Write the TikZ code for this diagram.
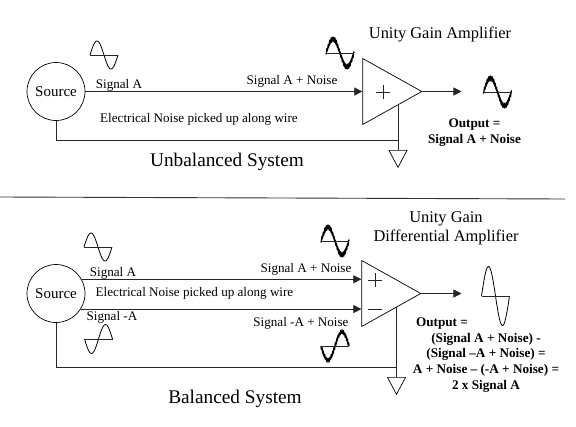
\documentclass[tikz,border=0pt]{standalone}
\usepackage{fontspec}
\setmainfont{Liberation Serif}
\usetikzlibrary{shapes.geometric,arrows.meta,positioning,backgrounds}
\tikzset{
  pics/wave/.style n args={3}{code={
    \draw[line width=#3] plot[domain=0:360,samples=145] ({\x/360*28},{-#1*sin(\x)+#2*sin(\x*21)});
    \draw[wire] (0,0) -- (28,0);
  }}
}
\begin{document}
\begin{tikzpicture}[
  x=1pt,y=-1pt,
  wire/.style={line width=0.7pt,black!85},
  arr/.style={wire,-{Triangle[length=8pt,width=8pt]}},
  src/.style={circle,draw,line width=0.7pt,minimum size=58pt,inner sep=0pt,font=\fontsize{15}{17}\selectfont},
  amp/.style={isosceles triangle,isosceles triangle apex angle=58.4,draw,fill=white,line width=0.7pt,inner sep=0pt,minimum height=59pt,minimum width=66pt},
  gnd/.style={isosceles triangle,isosceles triangle apex angle=56,shape border rotate=-90,draw,line width=0.7pt,inner sep=0pt,minimum height=17pt,minimum width=18pt,anchor=lower side},
  lbl/.style={inner sep=0pt,font=\fontsize{13.1}{15}\selectfont},
  sym/.style={inner sep=0pt,font=\fontsize{16.4}{19.5}\selectfont,align=center},
  ttl/.style={inner sep=0pt,font=\fontsize{19.3}{22}\selectfont},
  res/.style={inner sep=0pt,align=center,font=\fontsize{13.2}{15.6}\selectfont\bfseries}
]
\useasboundingbox (0,0) rectangle (576,426);
% unbalanced
\node[src] (srcA) at (56,91.5) {Source};
\node[amp,right=277pt of srcA] (ampA) {};
\node[gnd] (gndA) at (398,150) {};
\coordinate[above=10pt of gndA.lower side] (jctA);
\coordinate[right=39pt of ampA.apex] (outA);
\draw[arr] (srcA) -- (ampA.lower side);
\draw[arr] (ampA.apex) -- (outA);
\draw[wire] (srcA.south) |- (jctA);
\begin{scope}[on background layer]
\draw[wire] (gndA.lower side) -- (gndA.lower side |- ampA.center);
\end{scope}
\draw[wire] (376,92) -- (390,92) (383,85) -- (383,99);
\pic at (90,55) {wave={14}{0}{0.8pt}};
\pic at (326,53) {wave={14}{1.5}{1.3pt}};
\pic at (483.5,92) {wave={14}{1.5}{1.3pt}};
\node[lbl] (sigA) at (119,85) {Signal A};
\node[lbl] (sigNoiseA) at (292,81) {Signal A + Noise};
\node[lbl] (noiseA) at (199,119) {Electrical Noise picked up along wire};
\node[ttl] (titleA) at (227,162) {Unbalanced System};
\node[sym] (nameA) at (440,34) {Unity Gain Amplifier};
\node[res] (resA) at (474.5,132.5) {Output =\\Signal A + Noise};
% divider
\coordinate (divL) at (0,197);
\coordinate (divR) at (565,199);
\draw[line width=0.9pt,black!80] (divL) -- (divR);
% balanced
\node[src] (srcB) at (56,293.5) {Source};
\node[amp,right=276pt of srcB] (ampB) {};
\node[gnd] (gndB) at (396.5,377) {};
\coordinate[above=10pt of gndB.lower side] (jctB);
\coordinate[right=40pt of ampB.apex] (outB);
\draw[arr] (srcB.29) -- (srcB.29 -| ampB.lower side);
\draw[arr] (srcB.-32) -- (srcB.-32 -| ampB.lower side);
\draw[arr] (ampB.apex) -- (outB);
\draw[wire] (srcB.south) |- (jctB);
\begin{scope}[on background layer]
\draw[wire] (gndB.lower side) -- (gndB.lower side |- ampB.center);
\end{scope}
\draw[wire] (368,280) -- (382,280) (375,273) -- (375,287) (368,309) -- (382,309);
\pic at (84,247) {wave={14}{0}{0.8pt}};
\pic at (84.5,339) {wave={-14.5}{0}{0.8pt}};
\pic at (321,241) {wave={14}{1.5}{1.3pt}};
\pic at (321,346) {wave={-14}{1.5}{1.3pt}};
\pic at (481.5,296) {wave={29.5}{0}{0.8pt}};
\node[lbl] (sigB) at (113,273) {Signal A};
\node[lbl] (sigNoiseB) at (306,269) {Signal A + Noise};
\node[lbl] (noiseB) at (194.5,293) {Electrical Noise picked up along wire};
\node[lbl] (sigMinus) at (112,317.5) {Signal -A};
\node[lbl] (sigMinusNoise) at (301,323) {Signal -A + Noise};
\node[ttl] (titleB) at (235,399) {Balanced System};
\node[sym] (nameB) at (446,228.5) {Unity Gain\\Differential Amplifier};
\node[res] (outLbl) at (442,323.5) {Output =};
\node[res] (resB) at (486,362.5) {(Signal A + Noise) -\\(Signal --A + Noise) =\\A + Noise -- (-A + Noise) =\\2 x Signal A};
\end{tikzpicture}
\end{document}
